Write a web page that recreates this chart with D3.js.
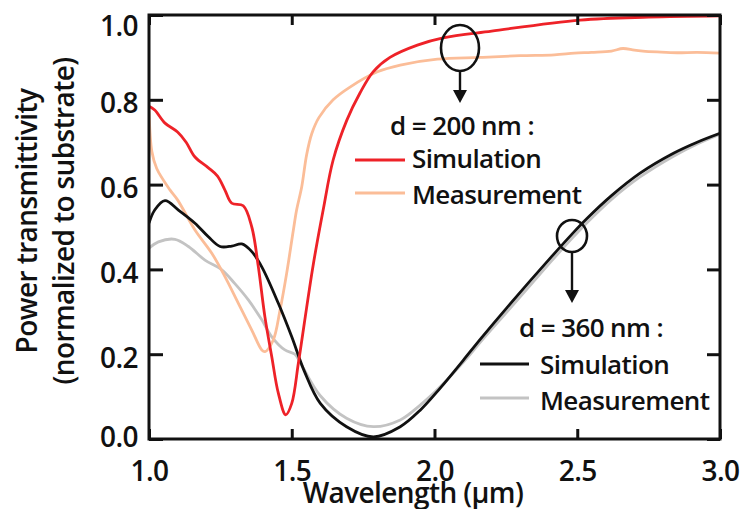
<!DOCTYPE html>
<html>
<head>
<meta charset="utf-8">
<script src="https://cdn.jsdelivr.net/npm/d3@7/dist/d3.min.js"></script>
<style>
  html, body { margin: 0; padding: 0; background: #fff; }
  svg { display: block; }
  text { font-family: "Open Sans", "DejaVu Sans", sans-serif; font-weight: 600; fill: #111; letter-spacing: -0.6px; }
</style>
</head>
<body>
<svg id="chart" width="744" height="509"></svg>
<script>
// Wavelength (µm) and normalized power transmittivity for each spectrum

// d = 200 nm, simulation
const wlSim200 = [1.00, 1.02, 1.056, 1.10, 1.13, 1.161, 1.207, 1.24, 1.266, 1.29, 1.33, 1.36, 1.383, 1.406, 1.43, 1.453, 1.479, 1.50, 1.523, 1.544, 1.575, 1.61, 1.645, 1.693, 1.739, 1.785, 1.844, 1.94, 2.03, 2.20, 2.51, 2.75, 3.00];
const tSim200  = [0.785, 0.776, 0.745, 0.724, 0.70, 0.665, 0.640, 0.620, 0.587, 0.556, 0.550, 0.500, 0.406, 0.288, 0.194, 0.108, 0.057, 0.084, 0.178, 0.273, 0.410, 0.540, 0.658, 0.752, 0.816, 0.866, 0.900, 0.929, 0.946, 0.962, 0.988, 0.995, 0.998];

// d = 200 nm, measurement
const wlMeas200 = [1.00, 1.01, 1.027, 1.074, 1.10, 1.161, 1.22, 1.266, 1.313, 1.36, 1.395, 1.406, 1.435, 1.459, 1.482, 1.505, 1.517, 1.535, 1.552, 1.57, 1.595, 1.645, 1.704, 1.80, 1.88, 2.01, 2.16, 2.30, 2.42, 2.49, 2.55, 2.62, 2.66, 2.70, 2.73, 2.78, 2.85, 2.92, 3.00];
const tMeas200  = [0.775, 0.678, 0.638, 0.587, 0.564, 0.493, 0.438, 0.383, 0.320, 0.257, 0.210, 0.206, 0.233, 0.304, 0.390, 0.490, 0.540, 0.595, 0.670, 0.720, 0.758, 0.800, 0.830, 0.866, 0.882, 0.896, 0.900, 0.904, 0.906, 0.910, 0.912, 0.915, 0.921, 0.917, 0.915, 0.913, 0.911, 0.912, 0.910];

// d = 360 nm, simulation
const wlSim360 = [1.00, 1.02, 1.056, 1.103, 1.161, 1.208, 1.249, 1.29, 1.325, 1.36, 1.395, 1.453, 1.50, 1.544, 1.60, 1.692, 1.786, 1.88, 1.95, 2.02, 2.10, 2.16, 2.254, 2.41, 2.48, 2.534, 2.62, 2.72, 2.837, 2.92, 3.00];
const tSim360  = [0.509, 0.540, 0.562, 0.540, 0.509, 0.477, 0.454, 0.455, 0.460, 0.442, 0.406, 0.320, 0.241, 0.160, 0.084, 0.029, 0.005, 0.029, 0.068, 0.120, 0.185, 0.235, 0.310, 0.430, 0.482, 0.520, 0.574, 0.627, 0.674, 0.700, 0.721];

// d = 360 nm, measurement
const wlMeas360 = [1.00, 1.033, 1.091, 1.138, 1.196, 1.255, 1.30, 1.348, 1.395, 1.43, 1.476, 1.511, 1.53, 1.60, 1.692, 1.786, 1.88, 1.95, 2.02, 2.113, 2.16, 2.254, 2.41, 2.48, 2.534, 2.62, 2.72, 2.837, 2.92, 3.00];
const tMeas360  = [0.450, 0.465, 0.471, 0.454, 0.422, 0.399, 0.367, 0.328, 0.281, 0.241, 0.210, 0.200, 0.180, 0.102, 0.049, 0.029, 0.045, 0.080, 0.123, 0.190, 0.228, 0.300, 0.420, 0.472, 0.510, 0.565, 0.618, 0.667, 0.696, 0.719];

// Axis ticks
const xTicks = [1.0, 1.5, 2.0, 2.5, 3.0];
const yTicks = [0.0, 0.2, 0.4, 0.6, 0.8, 1.0];

const svg = d3.select("#chart");
const margin = { left: 149, top: 15, right: 24, bottom: 70 };
const W = 744, H = 509;
const x = d3.scaleLinear().domain([1.0, 3.0]).range([margin.left, W - margin.right]);
const y = d3.scaleLinear().domain([0.0, 1.0]).range([H - margin.bottom, margin.top]);

svg.append("defs").append("clipPath").attr("id", "plot-clip")
  .append("rect")
  .attr("x", x(1.0)).attr("y", y(1.0))
  .attr("width", x(3.0) - x(1.0)).attr("height", y(0) - y(1.0));

const line = d3.line()
  .x(d => x(d[0]))
  .y(d => y(d[1]))
  .curve(d3.curveCatmullRom.alpha(0.5));

const series = [
  { wl: wlMeas360, t: tMeas360, color: "#c3c3c3" },
  { wl: wlMeas200, t: tMeas200, color: "#fbbd98" },
  { wl: wlSim360,  t: tSim360,  color: "#111111" },
  { wl: wlSim200,  t: tSim200,  color: "#ee2228" }
];

const curves = svg.append("g").attr("clip-path", "url(#plot-clip)");
series.forEach(s => {
  curves.append("path")
    .datum(s.wl.map((w, i) => [w, s.t[i]]))
    .attr("d", line)
    .attr("fill", "none")
    .attr("stroke", s.color)
    .attr("stroke-width", 2.8)
    .attr("stroke-linejoin", "round");
});

// Axes with inward ticks on all four sides
const fmt = d3.format(".1f");
const axisStyle = g => {
  g.select(".domain").remove();
  g.selectAll(".tick line").attr("stroke", "#111").attr("stroke-width", 3);
  g.selectAll(".tick text")
    .style("font-size", "28px")
    .attr("fill", "#111");
};

svg.append("g")
  .attr("transform", `translate(0,${y(0)})`)
  .call(d3.axisBottom(x).tickValues(xTicks).tickFormat(fmt).tickSize(-10).tickPadding(22))
  .call(axisStyle);

// y labels sit slightly below their ticks; the top one is pushed inside the page
const yLabelShift = v => (v === 1.0 ? 10 : v === 0.0 ? -3 : 3);
svg.append("g")
  .attr("transform", `translate(${x(1.0)},0)`)
  .call(d3.axisLeft(y).tickValues(yTicks).tickFormat(fmt).tickSize(-14).tickPadding(11))
  .call(axisStyle)
  .selectAll(".tick text")
  .attr("dy", "0.357em")
  .attr("y", d => yLabelShift(d));

svg.append("g")
  .attr("transform", `translate(0,${y(1.0)})`)
  .call(d3.axisTop(x).tickValues(xTicks).tickFormat("").tickSize(-10))
  .call(axisStyle);

svg.append("g")
  .attr("transform", `translate(${x(3.0)},0)`)
  .call(d3.axisRight(y).tickValues(yTicks).tickFormat("").tickSize(-13))
  .call(axisStyle);

// Plot frame
svg.append("rect")
  .attr("x", x(1.0)).attr("y", y(1.0))
  .attr("width", x(3.0) - x(1.0)).attr("height", y(0) - y(1.0))
  .attr("fill", "none").attr("stroke", "#111").attr("stroke-width", 3);

// Axis titles
svg.append("text")
  .attr("x", 413).attr("y", 503)
  .attr("text-anchor", "middle")
  .style("font-size", "28px")
  .text("Wavelength (\u00b5m)");

const yTitle = svg.append("text")
  .attr("transform", "translate(0,221) rotate(-90)")
  .attr("text-anchor", "middle")
  .style("font-size", "28px");
yTitle.append("tspan").attr("x", 0).attr("y", 37).text("Power transmittivity");
yTitle.append("tspan").attr("x", 0).attr("y", 74).text("(normalized to substrate)");

// Legends
const legends = [
  { title: "d = 200 nm :", tx: 390, ty: 135, lx0: 355, lx1: 405, textX: 412,
    rows: [{ label: "Simulation", color: "#ee2228", ly: 160, by: 168 },
           { label: "Measurement", color: "#fbbd98", ly: 193, by: 204 }] },
  { title: "d = 360 nm :", tx: 519, ty: 337, lx0: 480, lx1: 529, textX: 540,
    rows: [{ label: "Simulation", color: "#111111", ly: 364, by: 374 },
           { label: "Measurement", color: "#c3c3c3", ly: 398, by: 410 }] }
];
legends.forEach(L => {
  const g = svg.append("g");
  g.append("text").attr("x", L.tx).attr("y", L.ty).style("font-size", "26px").text(L.title);
  L.rows.forEach(r => {
    g.append("line").attr("x1", L.lx0).attr("x2", L.lx1).attr("y1", r.ly).attr("y2", r.ly)
      .attr("stroke", r.color).attr("stroke-width", 2.8);
    g.append("text").attr("x", L.textX).attr("y", r.by).style("font-size", "26px").text(r.label);
  });
});

// Callout ellipses with arrows pointing to the legends
const callouts = [
  { cx: 460, cy: 48, rx: 19, ry: 23, tip: 103 },
  { cx: 572, cy: 236, rx: 15, ry: 16, tip: 303 }
];
callouts.forEach(c => {
  svg.append("ellipse")
    .attr("cx", c.cx).attr("cy", c.cy).attr("rx", c.rx).attr("ry", c.ry)
    .attr("fill", "none").attr("stroke", "#111").attr("stroke-width", 2.6);
  svg.append("line")
    .attr("x1", c.cx).attr("x2", c.cx).attr("y1", c.cy + c.ry).attr("y2", c.tip - 10)
    .attr("stroke", "#111").attr("stroke-width", 2.4);
  svg.append("path")
    .attr("d", `M${c.cx - 7},${c.tip - 13} L${c.cx + 7},${c.tip - 13} L${c.cx},${c.tip} Z`)
    .attr("fill", "#111");
});
</script>
</body>
</html>
